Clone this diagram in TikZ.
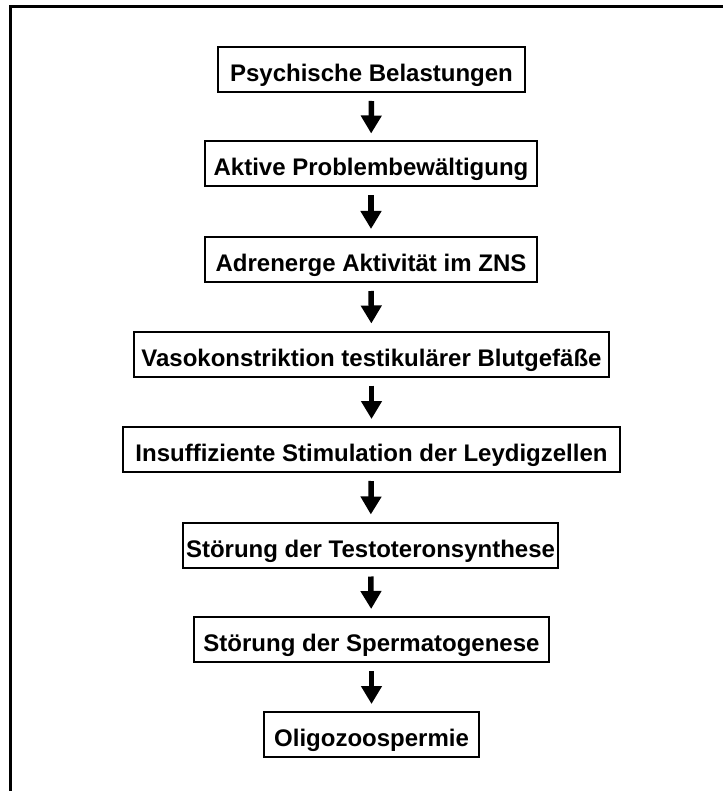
\documentclass[tikz,border=0pt]{standalone}
\usepackage{fontspec}
\setmainfont{Liberation Sans}
\usetikzlibrary{arrows.meta}
\begin{document}
\begin{tikzpicture}[x=1pt,y=-1pt,
  box/.style={draw,line width=2pt,minimum height=45pt,inner sep=0pt,
    text height=24pt,text depth=0pt,
    font=\fontsize{24}{28}\selectfont\bfseries},
  flow/.style={line width=5.5pt,-{Triangle[width=20pt,length=18pt]},
    shorten <=8pt,shorten >=7pt},
  frame/.style={line width=3pt}]
\useasboundingbox (0,0) rectangle (723,791);
\coordinate (fb) at (10,791);
\coordinate (fc) at (10,7);
\coordinate (fr) at (723,7);
\draw[frame] (fb) -- (fc) -- (fr);
\node[box,minimum width=307pt] (n1) at (371.5,69.5) {Psychische Belastungen};
\node[box,minimum width=332pt] (n2) at (371,164) {Aktive Problembewältigung};
\node[box,minimum width=332pt] (n3) at (371,259.5) {Adrenerge Aktivität im ZNS};
\node[box,minimum width=475pt] (n4) at (371.5,354) {Vasokonstriktion testikulärer Blutgefäße};
\node[box,minimum width=497pt] (n5) at (371.5,449.5) {Insuffiziente Stimulation der Leydigzellen};
\node[box,minimum width=375pt] (n6) at (370.5,545) {Störung der Testoteronsynthese};
\node[box,minimum width=355pt] (n7) at (371.5,639.5) {Störung der Spermatogenese};
\node[box,minimum width=215pt] (n8) at (371.5,734.5) {Oligozoospermie};
\foreach \a/\b in {n1/n2,n2/n3,n3/n4,n4/n5,n5/n6,n6/n7,n7/n8}
  \draw[flow] (\a) -- (\b);
\end{tikzpicture}
\end{document}
